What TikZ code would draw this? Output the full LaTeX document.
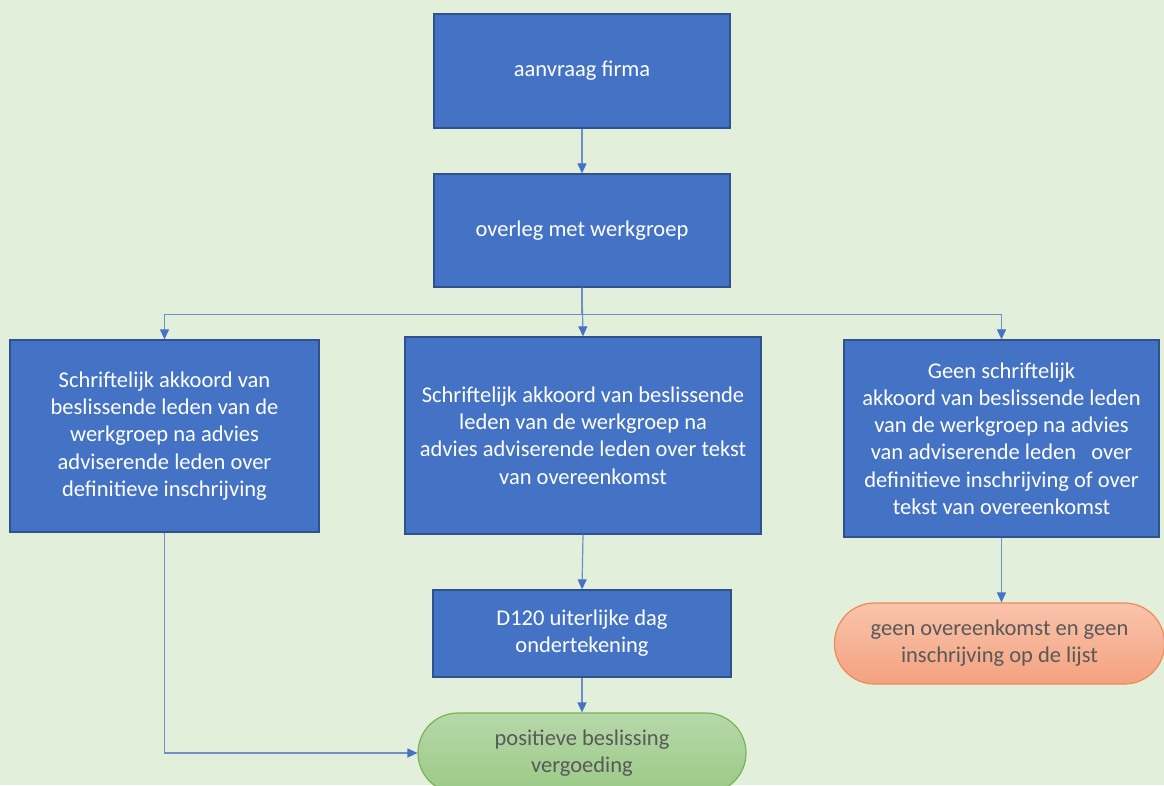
\documentclass[tikz,border=0pt]{standalone}
\usepackage{fontspec}
\setmainfont{Carlito}
\usetikzlibrary{arrows.meta}
\definecolor{bg}{HTML}{E2EFDA}
\definecolor{boxblue}{HTML}{4472C4}
\definecolor{boxborder}{HTML}{2F528F}
\definecolor{linecol}{HTML}{6F8FC8}
\definecolor{arrowblue}{HTML}{4472C4}
\definecolor{greytext}{HTML}{595959}
\definecolor{orangetop}{HTML}{F9C4AC}
\definecolor{orangebot}{HTML}{F4A27F}
\definecolor{orangeborder}{HTML}{EE8A58}
\definecolor{greentop}{HTML}{B6D8A9}
\definecolor{greenbot}{HTML}{9BCA86}
\definecolor{greenborder}{HTML}{7AB356}
\begin{document}
\begin{tikzpicture}[x=1pt,y=-1pt,
  box/.style={draw=boxborder, line width=1.3pt, fill=boxblue, text=white,
    align=center, font=\fontsize{22.5}{27.2}\selectfont, inner sep=0pt},
  stadium/.style={line width=1.2pt, text=greytext, align=center,
    font=\fontsize{22.5}{27.2}\selectfont, inner sep=0pt, rounded corners=40pt},
  conn/.style={draw=linecol, line width=1.2pt,
    -{Triangle[length=10pt,width=9pt,color=arrowblue]}}]
\useasboundingbox (0,0) rectangle (1164,785);
\clip (0,0) rectangle (1164,785);
\fill[bg] (0,0) rectangle (1164,785);

\node[box, minimum width=296pt, minimum height=114pt] (A) at (582,71) {aanvraag firma};
\node[box, minimum width=296pt, minimum height=113pt] (B) at (582,230.5) {overleg met werkgroep};
\node[box, minimum width=309pt, minimum height=192pt] (C) at (164.5,436)
  {Schriftelijk akkoord van\\beslissende leden van de\\werkgroep na advies\\adviserende leden over\\definitieve inschrijving};
\node[box, minimum width=356pt, minimum height=197pt] (D) at (583,435.5)
  {Schriftelijk akkoord van beslissende\\leden van de werkgroep na\\advies adviserende leden over tekst\\van overeenkomst};
\node[box, minimum width=315pt, minimum height=197pt] (E) at (1001.5,438.5)
  {Geen schriftelijk\\akkoord van beslissende leden\\van de werkgroep na advies\\van adviserende leden\ \ \ over\\definitieve inschrijving of over\\tekst van overeenkomst};
\node[box, minimum width=298pt, minimum height=87pt] (F) at (582,633.5)
  {D120 uiterlijke dag\\ondertekening};
\node[stadium, draw=orangeborder, top color=orangetop, bottom color=orangebot,
  minimum width=330pt, minimum height=81pt] (G) at (999.5,643.5)
  {geen overeenkomst en geen\\inschrijving op de lijst};
\node[stadium, draw=greenborder, top color=greentop, bottom color=greenbot,
  minimum width=328pt, minimum height=80pt] (H) at (582,753)
  {positieve beslissing\\vergoeding};

\draw[conn] (A.south) -- (B.north);
\draw[conn] (B.south) -- (D.north);
\draw[conn] (B.south) -- ++(0,27) -| (C.north);
\draw[conn] (B.south) -- ++(0,27) -| (E.north);
\draw[conn] (D.south) -- (F.north);
\draw[conn] (F.south) -- (H.north);
\draw[conn] (C.south) |- (H.west);
\draw[conn] (E.south) -- (E.south |- G.north);
\end{tikzpicture}
\end{document}
